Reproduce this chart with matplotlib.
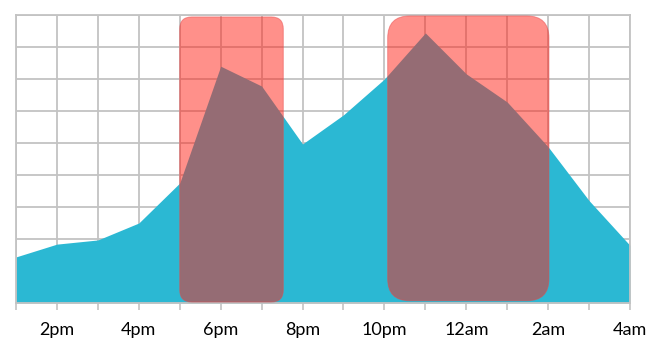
import matplotlib.pyplot as plt
from matplotlib.patches import FancyBboxPatch

# hours from 1pm (0) to 4am (15)
hours = list(range(16))
values = [1.44, 1.84, 1.97, 2.5, 3.75, 7.4, 6.78, 4.97, 5.88, 7.0, 8.44, 7.16, 6.28, 4.88, 3.2, 1.8]
tick_labels = ["", "2pm", "", "4pm", "", "6pm", "", "8pm", "", "10pm", "", "12am", "", "2am", "", "4am"]

# highlighted periods (start hour, end hour)
span_start = [4.0, 9.08]
span_end = [6.53, 13.02]
span_low = [0.03, 0.07]
span_high = [8.94, 8.97]

AREA = "#2BB8D3"
GRID = "#C3C3C3"


def main():
    plt.rcParams["font.family"] = ["Lato", "DejaVu Sans"]
    fig = plt.figure(figsize=(6.5, 3.4), dpi=100)
    ax = fig.add_axes([16 / 650, 37 / 340, 614 / 650, 288 / 340])

    ax.fill_between(hours, values, 0, color=AREA, lw=0, zorder=2)

    ax.set_xlim(0, 15)
    ax.set_ylim(0, 9)
    ax.set_xticks(hours)
    ax.set_xticklabels(tick_labels, fontsize=13)
    ax.set_yticks(range(10))
    ax.set_yticklabels([])
    ax.tick_params(axis="y", length=0)
    ax.tick_params(axis="x", length=5, width=1.2, color=GRID, pad=9)
    ax.grid(True, color=GRID, lw=1.3)
    ax.set_axisbelow(True)
    for s in ax.spines.values():
        s.set_color(GRID)
        s.set_linewidth(1.3)

    # rounded corner radius in pixels -> data units
    px_x = 614 / 15
    px_y = 288 / 9
    radii = [12, 22]
    for x0, x1, y0, y1, r in zip(span_start, span_end, span_low, span_high, radii):
        box = FancyBboxPatch((x0, y0), x1 - x0, y1 - y0,
                             boxstyle=f"round,pad=0,rounding_size={r / px_x}",
                             mutation_aspect=px_x / px_y,
                             facecolor="#FF2216", edgecolor="#E8484A",
                             alpha=0.5, lw=0.7, zorder=3)
        ax.add_patch(box)

    fig.savefig("out.png", dpi=100)


if __name__ == "__main__":
    main()
